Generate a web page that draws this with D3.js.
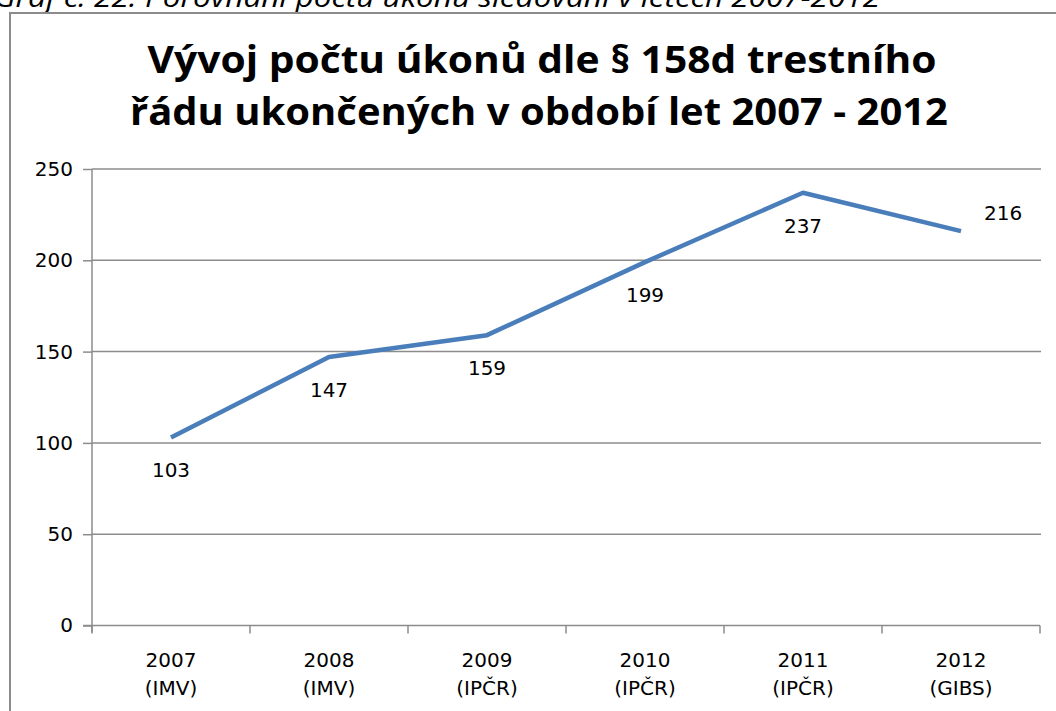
<!DOCTYPE html>
<html>
<head>
<meta charset="utf-8">
<script src="https://cdn.jsdelivr.net/npm/d3@7"></script>
<style>
  body { margin: 0; background: #fff; }
  svg { display: block; }
</style>
</head>
<body>
<div id="chart"></div>
<script>
let years = ["2007", "2008", "2009", "2010", "2011", "2012"];
let sources = ["(IMV)", "(IMV)", "(IPČR)", "(IPČR)", "(IPČR)", "(GIBS)"];
let values = [103, 147, 159, 199, 237, 216];
let yTicks = [0, 50, 100, 150, 200, 250];
let titleLines = ["Vývoj počtu úkonů dle § 158d trestního", "řádu ukončených v období let 2007 - 2012"];
let caption = "Graf č. 22: Porovnání počtu úkonů sledování v letech 2007-2012";

function gen_vis(){
    let W = 1056, H = 711;
    let margin = {top: 169, right: 16, bottom: 85, left: 92};

    let svg = d3.select("#chart")
    .append("svg")
    .attr("width", W)
    .attr("height", H);

    // caption above the chart, cut off by the top of the page
    svg.append("text")
    .text(caption)
    .attr("x", -6)
    .attr("y", 7)
    .attr("textLength", 886)
    .attr("lengthAdjust", "spacingAndGlyphs")
    .style("font-family", "'Open Sans', sans-serif")
    .style("font-style", "italic")
    .style("font-size", "27px")
    .style("fill", "#000");

    // chart frame
    svg.append("rect")
    .attr("x", 10)
    .attr("y", 13)
    .attr("width", 1100)
    .attr("height", 760)
    .style("fill", "#fff")
    .style("stroke", "#8c8c8c")
    .style("stroke-width", 2);

    let titleX = [542, 539];
    let titleW = [789, 818];
    svg.selectAll(".title")
    .data(titleLines)
    .enter()
    .append("text")
    .text(d => d)
    .attr("x", (d, i) => titleX[i])
    .attr("y", (d, i) => 73 + i * 52)
    .attr("textLength", (d, i) => titleW[i])
    .attr("lengthAdjust", "spacingAndGlyphs")
    .style("text-anchor", "middle")
    .style("font-family", "'Open Sans', sans-serif")
    .style("font-weight", "bold")
    .style("font-size", "37px")
    .style("fill", "#000");

    let width = 1040 - margin.left;
    let height = 625.5 - margin.top;

    let g = svg.append("g")
    .attr("transform", "translate(" + margin.left + "," + margin.top + ")");

    let x = d3.scaleBand()
    .domain(years)
    .range([0, width]);

    let y = d3.scaleLinear()
    .domain([0, 250])
    .range([height, 0]);

    // gridlines
    g.selectAll(".grid")
    .data(yTicks.filter(d => d > 0))
    .enter()
    .append("line")
    .attr("x1", 0)
    .attr("x2", width + 1)
    .attr("y1", d => y(d))
    .attr("y2", d => y(d))
    .style("stroke", "#8c8c8c")
    .style("stroke-width", 1.5);

    let yAxis = g.append("g")
    .call(d3.axisLeft(y).tickValues(yTicks).tickSize(9).tickPadding(10));
    yAxis.select(".domain").attr("d", "M0,0V" + (height + 7));

    let xAxis = g.append("g")
    .attr("transform", "translate(0," + height + ")")
    .call(d3.axisBottom(x).tickSize(0).tickFormat(""));
    xAxis.select(".domain").attr("d", "M-9,0H" + width);

    // category boundary ticks
    xAxis.selectAll(".btick")
    .data(d3.range(years.length + 1))
    .enter()
    .append("line")
    .attr("x1", d => d * x.bandwidth())
    .attr("x2", d => d * x.bandwidth())
    .attr("y1", 0)
    .attr("y2", 8)
    .style("stroke", "#8c8c8c")
    .style("stroke-width", 1.5);

    g.selectAll(".domain, .tick line")
    .style("stroke", "#8c8c8c")
    .style("stroke-width", 1.5);

    yAxis.selectAll(".tick text")
    .style("font-family", "'DejaVu Sans', sans-serif")
    .style("font-size", "20px")
    .style("fill", "#000");

    let catLabels = g.selectAll(".cat")
    .data(years)
    .enter()
    .append("text")
    .attr("x", d => x(d) + x.bandwidth() / 2)
    .attr("y", height + 41)
    .style("text-anchor", "middle")
    .style("font-family", "'DejaVu Sans', sans-serif")
    .style("font-size", "20px")
    .style("fill", "#000");
    catLabels.append("tspan")
    .text(d => d);
    catLabels.append("tspan")
    .text((d, i) => sources[i])
    .attr("x", d => x(d) + x.bandwidth() / 2)
    .attr("dy", 28);

    let line = d3.line()
    .x((d, i) => x(years[i]) + x.bandwidth() / 2)
    .y(d => y(d));

    g.append("path")
    .datum(values)
    .attr("d", line)
    .style("fill", "none")
    .style("stroke", "#4a7ebb")
    .style("stroke-width", 4.5)
    .style("stroke-linejoin", "round");

    g.selectAll(".dlabel")
    .data(values)
    .enter()
    .append("text")
    .text(d => d)
    .attr("x", (d, i) => x(years[i]) + x.bandwidth() / 2 + (i === values.length - 1 ? 23 : 0))
    .attr("y", (d, i) => y(d) + (i === values.length - 1 ? -11 : 40))
    .style("text-anchor", (d, i) => i === values.length - 1 ? "start" : "middle")
    .style("font-family", "'DejaVu Sans', sans-serif")
    .style("font-size", "20px")
    .style("fill", "#000");
}

gen_vis();
</script>
</body>
</html>
